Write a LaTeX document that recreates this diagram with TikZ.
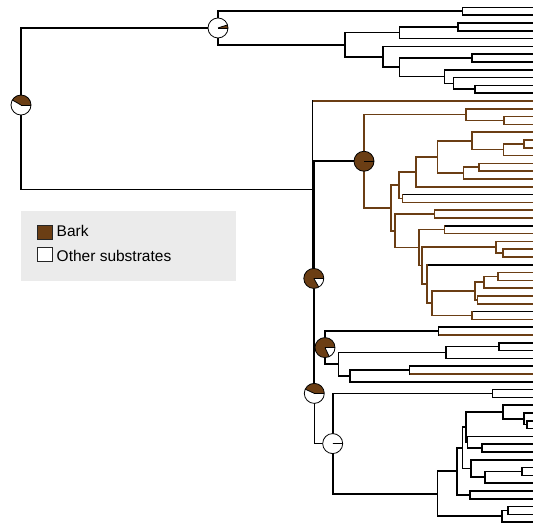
\documentclass[tikz,border=0pt]{standalone}
\usepackage{fontspec}
\setmainfont{Liberation Sans}
\usetikzlibrary{calc}
\definecolor{bark}{RGB}{107,62,20}
\definecolor{legendbg}{RGB}{235,235,235}

% leaf tip i sits on row 7.3 + 7.8 i, at the right edge
\newcommand\tip[2]{\coordinate (#1) at (533,{7.3+7.8*#2});}
% internal node: name, x, child 1, child 2, vertical colour, colour 1, colour 2
\newcommand\cl[7]{%
  \path let \p1=($(#3)!0.5!(#4)$) in coordinate (#1) at (#2pt,\y1);
  \draw[branch,#6] (#1 |- #3) -- (#3);
  \draw[branch,#7] (#1 |- #4) -- (#4);
  \draw[branch,line cap=rect,#5] (#1 |- #3) -- (#1 |- #4);
}
\newcommand\kcl[4]{\cl{#1}{#2}{#3}{#4}{black}{black}{black}}
\newcommand\bcl[4]{\cl{#1}{#2}{#3}{#4}{bark}{bark}{bark}}
% ancestral-state pie: centre, angle of the bark share
\newcommand\statepie[2]{%
  \begin{scope}[shift={(#1)}]
    \fill[white] (0,0) circle[radius=10pt];
    \fill[bark] (0,0) -- (0:10pt) arc[start angle=0,end angle=#2,radius=10pt] -- cycle;
    \draw[pieline] (0,0) -- (0:10pt);
    \draw[pieline] (0,0) -- (#2:10pt);
    \draw[pieline] (0,0) circle[radius=10pt];
  \end{scope}}

\begin{document}
\begin{tikzpicture}[x=1pt,y=-1pt,
  branch/.style={line width=1.6pt},
  pieline/.style={line width=0.8pt,black},
  keybox/.style={draw=black!85,line width=0.8pt,minimum width=15pt,minimum height=14pt,inner sep=0pt},
  keytext/.style={anchor=base west,inner sep=0pt,font=\fontsize{15.5}{18}\selectfont}]
\useasboundingbox (0,0) rectangle (533,523);

% tips
\foreach \i in {0,...,66}{\tip{t\i}{\i}}

% upper clade
\kcl{a462}{462.3}{t0}{t1}
\kcl{a458}{457.7}{t2}{t3}
\kcl{a399}{399.5}{a458}{t4}
\kcl{a474}{475}{t10}{t11}
\kcl{a453}{453.3}{t9}{a474}
\kcl{a444}{444.3}{t8}{a453}
\kcl{a472}{471.7}{t6}{t7}
\kcl{a399b}{399.5}{a472}{a444}
\kcl{a383}{382.7}{t5}{a399b}
\kcl{a345}{345}{a399}{a383}
\kcl{a218}{218}{a462}{a345}

% bark clade
\bcl{b504}{504}{t14}{t15}
\bcl{b466}{465.7}{t13}{b504}
\bcl{b524}{523.7}{t17}{t18}
\bcl{b503}{503.3}{b524}{t19}
\bcl{b472}{471.7}{t16}{b503}
\bcl{b479}{479}{t20}{t21}
\bcl{b463}{463.3}{b479}{t22}
\bcl{b437}{437.3}{b472}{b463}
\bcl{b416}{415.7}{b437}{t23}
\cl{b402}{402.3}{t24}{t25}{bark}{black}{bark}
\bcl{b399}{399}{b416}{b402}
\bcl{b434}{434.3}{t26}{t27}
\cl{b444}{444.3}{t28}{t29}{bark}{black}{bark}
\bcl{b503b}{502.7}{t31}{t32}
\bcl{b496}{496}{t30}{b503b}
\bcl{b498}{497.7}{t34}{t35}
\bcl{b484}{484}{b498}{t36}
\bcl{b477}{477.3}{t37}{t38}
\bcl{b475}{475}{b484}{b477}
\cl{b472b}{471.7}{t39}{t40}{bark}{black}{bark}
\bcl{b432}{431.7}{b475}{b472b}
\cl{b427}{426.7}{t33}{b432}{bark}{black}{bark}
\bcl{b422}{421.7}{b496}{b427}
\bcl{b419}{419}{b444}{b422}
\bcl{b395}{395}{b434}{b419}
\bcl{b391}{390.7}{b399}{b395}
\bcl{b364}{364}{b466}{b391}

% middle clade
\cl{c438}{438.3}{t41}{t42}{black}{black}{bark}
\kcl{c499}{499}{t43}{t44}
\kcl{c446}{446}{c499}{t45}
\cl{c409}{409.3}{t46}{t47}{black}{black}{bark}
\kcl{c350}{350}{c409}{t48}
\kcl{c338}{338.3}{c446}{c350}
\kcl{c325}{325}{c438}{c338}

% lower clade
\kcl{d492}{492.3}{t49}{t50}
\kcl{d527}{526.7}{t53}{t54}
\kcl{d524}{524}{t52}{d527}
\kcl{d503}{502.7}{t51}{d524}
\kcl{d482}{481.7}{t56}{t57}
\kcl{d467}{467.3}{t55}{d482}
\kcl{d466}{465.7}{d503}{d467}
\kcl{d522}{521.7}{t59}{t60}
\kcl{d485}{485}{d522}{t61}
\kcl{d471}{470.7}{t58}{d485}
\kcl{d462}{462.3}{d466}{d471}
\kcl{d470}{470}{t62}{t63}
\kcl{d457}{456.7}{d462}{d470}
\kcl{d508}{507.7}{t64}{t65}
\kcl{d502}{501.7}{d508}{t66}
\kcl{d437}{437.3}{d457}{d502}
\kcl{d333}{332.7}{d492}{d437}

% backbone
\kcl{s314}{314.3}{c325}{d333}
\kcl{s313b}{313.8}{b364}{s314}
\cl{s313a}{312.6}{t12}{s313b}{black}{bark}{black}
\kcl{root}{21}{a218}{s313a}

% state pies
\statepie{[yshift=3.8pt]root}{150}
\statepie{a218}{18}
\statepie{b364}{360}
\statepie{s313b}{300}
\statepie{c325}{295}
\statepie{[yshift=2.2pt]s314}{155}
\statepie{d333}{0}

% legend
\node (legend) [fill=legendbg,anchor=north west,minimum width=215pt,minimum height=70pt,inner sep=0pt] at (21,211) {};
\node (barkkey) [keybox,fill=bark] at (44.5,232.8) {};
\node (otherkey) [keybox,fill=white] at (44.5,254.7) {};
\node (barklabel) [keytext] at (56.5,236.7) {Bark};
\node (otherlabel) [keytext] at (56.5,261.3) {Other substrates};
\end{tikzpicture}
\end{document}
